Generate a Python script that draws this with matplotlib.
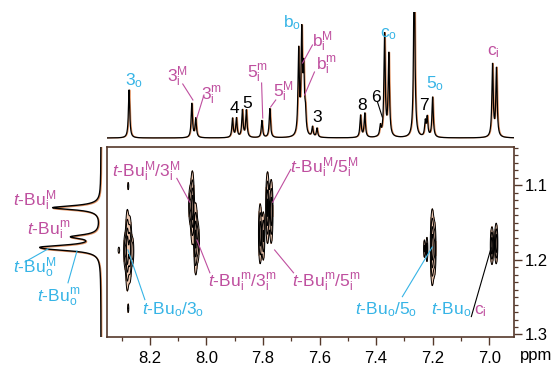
import numpy as np
import matplotlib
matplotlib.use('Agg')
import matplotlib.pyplot as plt
from matplotlib.ticker import MultipleLocator, FixedLocator, FixedFormatter

plt.rcParams['font.family'] = ['Liberation Sans', 'DejaVu Sans']
plt.rcParams['mathtext.fontset'] = 'custom'
plt.rcParams['mathtext.rm'] = 'Liberation Sans'
plt.rcParams['mathtext.it'] = 'Liberation Sans:italic'
plt.rcParams['mathtext.bf'] = 'Liberation Sans:bold'

# ---------------- data ----------------
# 1D 1H spectrum (top, F2 projection): peak positions (ppm) and intensities
h_ppm = [8.274, 8.052, 8.038, 7.908, 7.894, 7.873, 7.859, 7.804, 7.776,
         7.674, 7.663, 7.656, 7.650, 7.625, 7.609, 7.455, 7.440, 7.385,
         7.370, 7.355, 7.265, 7.226, 7.219, 7.200, 6.988, 6.974]
h_int = [48, 34, 19, 19, 19, 27, 27, 17, 29,
         84, 99, 60, 20, 10, 9, 22, 24, 10,
         102, 82, 180, 15, 19, 40, 72, 68]
h_lw = 0.0028

# t-Bu region (left, F1 projection)
tbu_ppm = [1.130, 1.169, 1.1825, 1.1855]
tbu_int = [48, 27, 42, 30]
tbu_lw = 0.0032

# NOESY cross peaks: F2 (ppm), F1 (ppm), relative intensity, widths
cp_f2 = [8.288, 8.280, 8.271, 8.262, 8.277, 8.277, 8.310,
         8.058, 8.050, 8.038, 8.030,
         7.784, 7.771, 7.810, 7.799,
         7.201, 7.193, 7.229, 7.220,
         6.990, 6.975]
cp_f1 = [1.188, 1.187, 1.186, 1.188, 1.101, 1.265, 1.187,
         1.126, 1.130, 1.172, 1.176,
         1.130, 1.135, 1.165, 1.168,
         1.183, 1.185, 1.185, 1.186,
         1.181, 1.178]
cp_int = [0.5, 1.0, 0.9, 0.45, 0.3, 0.3, 0.3,
          0.5, 1.0, 0.9, 0.45,
          0.9, 0.8, 0.75, 0.6,
          1.0, 0.55, 0.35, 0.45,
          0.8, 0.8]
cp_w2 = [0.0030, 0.0035, 0.0035, 0.0030, 0.0015, 0.0015, 0.0020,
         0.0030, 0.0035, 0.0035, 0.0030,
         0.0033, 0.0033, 0.0032, 0.0030,
         0.0035, 0.0030, 0.0020, 0.0020,
         0.0030, 0.0030]
cp_w1 = [0.013, 0.0265, 0.022, 0.011, 0.0035, 0.004, 0.003,
         0.014, 0.024, 0.024, 0.015,
         0.024, 0.022, 0.021, 0.018,
         0.025, 0.020, 0.008, 0.010,
         0.013, 0.014]
cp_levels = [0.12, 0.3, 0.55, 0.8]

x_ticks = [8.2, 8.0, 7.8, 7.6, 7.4, 7.2, 7.0]
x_ticklabels = ['8.2', '8.0', '7.8', '7.6', '7.4', '7.2', '7.0']
y_ticks = [1.1, 1.2, 1.3]
y_ticklabels = ['1.1', '1.2', '1.3']

XLIM = (8.352, 6.912)
YLIM = (1.3027, 1.048)

MAG = '#bf4f9f'
CYA = '#36b4e6'
FRAME = '#55382b'
ORANGE = '#e0905f'
FS = 12.5

# ---------------- layout ----------------
W, H = 554, 369
fig = plt.figure(figsize=(W / 100, H / 100), dpi=100)


def rect(l, t, r, b):
    return [l / W, 1 - b / H, (r - l) / W, (b - t) / H]


ax2 = fig.add_axes(rect(107, 146.5, 514, 336.5))
axt = fig.add_axes(rect(107, 12, 514, 142))
axl = fig.add_axes(rect(0, 146.5, 104, 336.5))

# ---------------- top 1D spectrum ----------------
xg = np.linspace(XLIM[0], XLIM[1], 8000)
spec = np.zeros_like(xg)
for p, a in zip(h_ppm, h_int):
    spec += a * h_lw ** 2 / ((xg - p) ** 2 + h_lw ** 2)
axt.plot(xg - 0.0025, spec, color=ORANGE, lw=0.9)
axt.plot(xg, spec, color='black', lw=0.9)
axt.set_xlim(XLIM)
axt.set_ylim(-4, 126)
axt.axis('off')

# ---------------- left 1D projection ----------------
yg = np.linspace(YLIM[1], YLIM[0], 3000)
proj = np.zeros_like(yg)
for p, a in zip(tbu_ppm, tbu_int):
    proj += a * tbu_lw ** 2 / ((yg - p) ** 2 + tbu_lw ** 2)
axl.plot(proj - 0.8, yg + 0.001, color=ORANGE, lw=1.0)
axl.plot(proj, yg, color='black', lw=1.0)
axl.set_xlim(101, -3)
axl.set_ylim(YLIM)
axl.axis('off')

# ---------------- 2D NOESY contours ----------------
x2 = np.linspace(XLIM[0], XLIM[1], 2600)
y2 = np.linspace(YLIM[1], YLIM[0], 600)
Z = np.zeros((y2.size, x2.size))
for x0, y0, a, sx, sy in zip(cp_f2, cp_f1, cp_int, cp_w2, cp_w1):
    gx = np.exp(-0.5 * ((x2 - x0) / sx) ** 2)
    gy = np.exp(-0.5 * ((y2 - y0) / sy) ** 2)
    Z += a * np.outer(gy, gx)
ax2.contourf(x2, y2, Z, levels=[cp_levels[0], 100], colors=[ORANGE], alpha=0.5)
ax2.contour(x2, y2, Z, levels=cp_levels, colors='black', linewidths=0.7)
ax2.set_xlim(XLIM)
ax2.set_ylim(YLIM)

for s in ax2.spines.values():
    s.set_color(FRAME)
    s.set_linewidth(1.2)
ax2.yaxis.tick_right()
ax2.xaxis.set_major_locator(FixedLocator(x_ticks))
ax2.xaxis.set_major_formatter(FixedFormatter(x_ticklabels))
ax2.xaxis.set_minor_locator(MultipleLocator(0.1))
ax2.yaxis.set_major_locator(FixedLocator(y_ticks))
ax2.yaxis.set_major_formatter(FixedFormatter(y_ticklabels))
ax2.yaxis.set_minor_locator(MultipleLocator(0.01))
ax2.tick_params(which='major', direction='out', length=5.5, width=1.0,
                color=FRAME, labelsize=12, pad=5)
ax2.tick_params(which='minor', direction='out', length=2.8, width=0.9,
                color=FRAME)
ax2.tick_params(axis='y', which='both', left=False, right=True,
                labelleft=False, labelright=True, pad=2)
ax2.text(1.015, -0.06, 'ppm', transform=ax2.transAxes, fontsize=12,
         ha='left', va='top')


# ---------------- labels ----------------
def lab(ax, x, y, s, c):
    ax.text(x, y, s, color=c, fontsize=FS, ha='left', va='baseline',
            clip_on=False)


def lead(ax, x0, y0, x1, y1, c):
    ax.plot([x0, x1], [y0, y1], color=c, lw=0.8, clip_on=False)


sub_o = r'$_\mathrm{o}$'
iM = r'$_\mathrm{i}^\mathrm{M}$'
im = r'$_\mathrm{i}^\mathrm{m}$'
oM = r'$_\mathrm{o}^\mathrm{M}$'
om = r'$_\mathrm{o}^\mathrm{m}$'
sub_i = r'$_\mathrm{i}$'
tBu = r'$\mathit{t}$-Bu'

# top spectrum labels
lab(axt, 8.288, 53, '3' + sub_o, CYA)
lab(axt, 8.140, 56, '3' + iM, MAG)
lead(axt, 8.084, 54, 8.048, 38, MAG)
lab(axt, 8.020, 38, '3' + im, MAG)
lead(axt, 8.009, 43, 8.034, 20, MAG)
lab(axt, 7.918, 25, '4', 'black')
lab(axt, 7.875, 30, '5', 'black')
lab(axt, 7.858, 60, '5' + im, MAG)
lead(axt, 7.805, 55, 7.801, 20, MAG)
lab(axt, 7.766, 41, '5' + iM, MAG)
lead(axt, 7.755, 38, 7.773, 31, MAG)
lab(axt, 7.731, 111, 'b' + sub_o, CYA)
lab(axt, 7.628, 91, 'b' + iM, MAG)
lead(axt, 7.625, 93, 7.660, 75, MAG)
lab(axt, 7.611, 68, 'b' + im, MAG)
lead(axt, 7.618, 66, 7.653, 43, MAG)
lab(axt, 7.625, 16, '3', 'black')
lab(axt, 7.466, 28, '8', 'black')
lab(axt, 7.416, 36, '6', 'black')
lead(axt, 7.395, 36, 7.378, 21, 'black')
lab(axt, 7.385, 101, 'c' + sub_o, CYA)
lab(axt, 7.247, 28, '7', 'black')
lab(axt, 7.222, 50, '5' + sub_o, CYA)
lab(axt, 7.007, 83, 'c' + sub_i, MAG)

# 2D labels
lab(ax2, 8.334, 1.0893, tBu + iM + '/3' + iM, MAG)
lead(ax2, 8.105, 1.0907, 8.059, 1.1227, MAG)
lab(ax2, 7.995, 1.236, tBu + im + '/3' + im, MAG)
lead(ax2, 7.988, 1.2173, 8.034, 1.1733, MAG)
lab(ax2, 7.706, 1.084, tBu + iM + '/5' + iM, MAG)
lead(ax2, 7.702, 1.0787, 7.766, 1.1227, MAG)
lab(ax2, 7.699, 1.236, tBu + im + '/5' + im, MAG)
lead(ax2, 7.692, 1.2173, 7.759, 1.1867, MAG)
lab(ax2, 8.228, 1.2733, tBu + sub_o + '/3' + sub_o, CYA)
lead(ax2, 8.218, 1.2533, 8.278, 1.1867, CYA)
lab(ax2, 7.476, 1.2733, tBu + sub_o + '/5' + sub_o, CYA)
lead(ax2, 7.307, 1.2493, 7.201, 1.1827, CYA)
lab(ax2, 7.205, 1.2733, tBu + sub_o, CYA)
lab(ax2, 7.053, 1.2733, 'c' + sub_i, MAG)
lead(ax2, 7.063, 1.276, 6.993, 1.184, 'black')

# left projection labels
lab(axl, 88, 1.128, tBu + iM, MAG)
lab(axl, 74, 1.1667, tBu + im, MAG)
lab(axl, 88, 1.2173, tBu + oM, CYA)
lead(axl, 76, 1.2027, 53, 1.1853, CYA)
lab(axl, 64, 1.256, tBu + om, CYA)
lead(axl, 33, 1.2307, 24, 1.188, CYA)

fig.savefig('out.png', dpi=100)
